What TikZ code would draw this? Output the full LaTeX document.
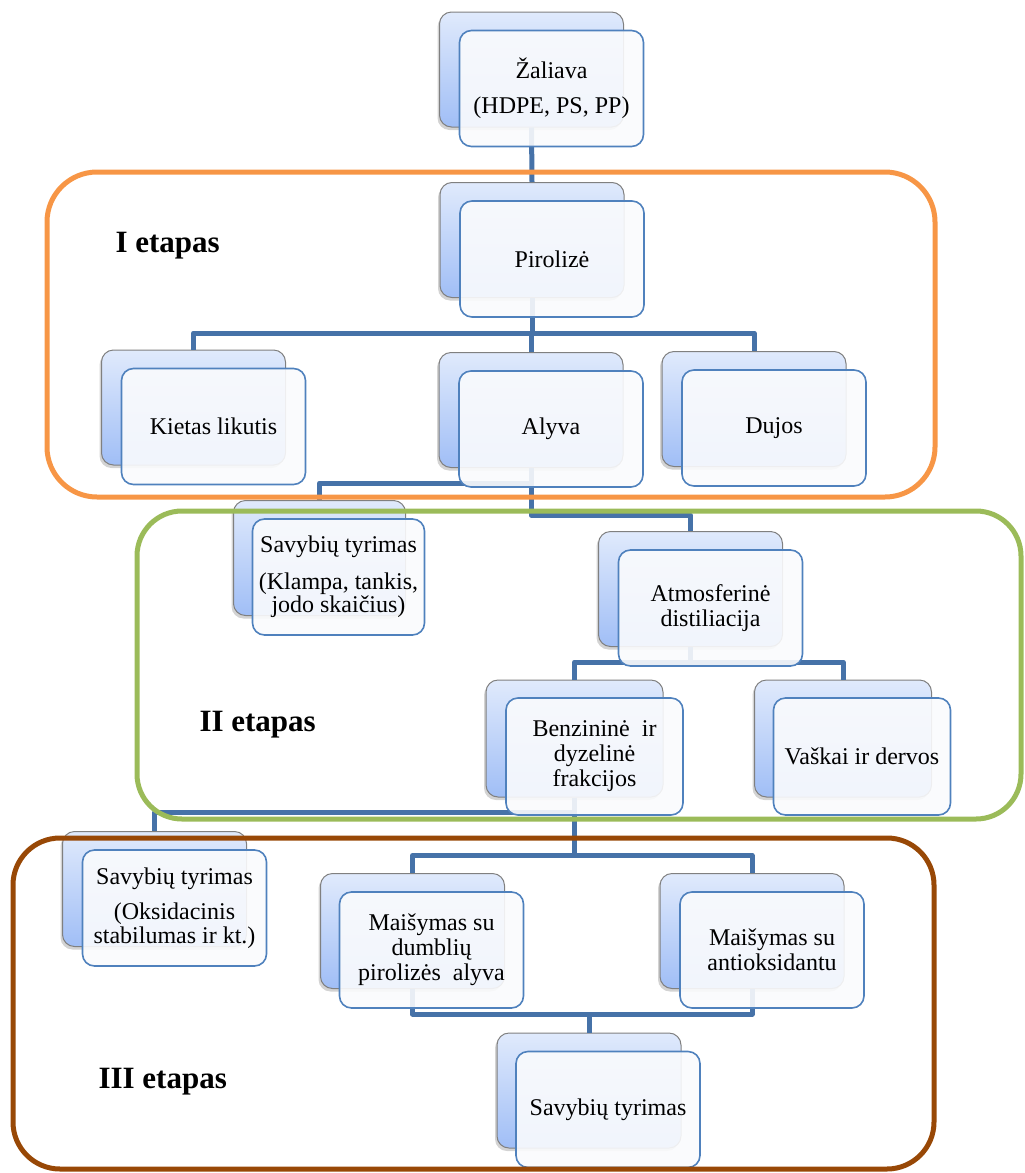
\documentclass[tikz,border=0pt]{standalone}
\usepackage{fontspec}
\setmainfont{Liberation Serif}
\usetikzlibrary{shadows}
\definecolor{linija}{RGB}{70,114,168}
\definecolor{remas}{RGB}{79,129,189}
\definecolor{virsus}{RGB}{224,234,252}
\definecolor{apacia}{RGB}{160,190,246}
\definecolor{oranzine}{RGB}{247,150,70}
\definecolor{zalia}{RGB}{155,187,89}
\definecolor{ruda}{RGB}{152,72,6}
\begin{document}
\begin{tikzpicture}[x=1pt,y=-1pt,line join=round,font=\fontsize{24}{25}\selectfont,
	back/.style={rectangle,rounded corners=12pt,draw=gray,line width=1pt,top color=virsus,bottom color=apacia,
		minimum width=184pt,minimum height=115pt,inner sep=0pt,
		drop shadow={shadow xshift=-2pt,shadow yshift=-3pt,opacity=.35}},
	front/.style={rectangle,rounded corners=12pt,draw=remas,line width=1.6pt,fill=white!97!remas,
		fill opacity=.9,text opacity=1,minimum width=184pt,minimum height=116pt,align=center,inner sep=2pt},
	jung/.style={draw=linija,line width=5pt},
	etapas/.style={font=\fontsize{31}{31}\selectfont\bfseries,anchor=base west},
	etapremas/.style={line width=5pt}]
			\useasboundingbox (0,0) rectangle (1025,1173);
			\node[back] (zal) at (531.5,69.5) {};
			\node[back] (pir) at (532,240) {};
			\node[back] (kie) at (193.5,407.5) {};
			\node[back] (alv) at (531,410) {};
			\node[back] (duj) at (754,409) {};
			\node[back,minimum width=172pt] (sav1) at (319.5,558) {};
			\node[back] (atm) at (690.5,589) {};
			\node[back,minimum width=177pt,minimum height=117pt] (ben) at (574.5,738.5) {};
			\node[back,minimum width=177pt,minimum height=117pt] (vas) at (843,738.5) {};
			\node[back] (sav2) at (154.5,889) {};
			\node[back] (mai1) at (412.5,931) {};
			\node[back] (mai2) at (752,931) {};
			\node[back] (sav3) at (589,1090.5) {};
			\draw[jung] (zal.south) -- (pir.north);
			\draw[jung] (pir.south) -- ++(0,35) -| (kie.north);
			\draw[jung] (pir.south) -- ++(0,35) -| (alv.north);
			\draw[jung] (pir.south) -- ++(0,35) -| (duj.north);
			\draw[jung] (alv.south) -- ++(0,15) -| (sav1.north);
			\draw[jung] (alv.south) -- ++(0,47) -| (atm.north);
			\draw[jung] (atm.south) -- ++(0,15) -| (ben.north);
			\draw[jung] (atm.south) -- ++(0,15) -| (vas.north);
			\draw[jung] (ben.south) -- ++(0,15) -| (sav2.north);
			\draw[jung] (ben.south) -- ++(0,58) -| (mai1.north);
			\draw[jung] (ben.south) -- ++(0,58) -| (mai2.north);
			\draw[jung] (mai1.south) -- ++(0,25) -| (sav3.north);
			\draw[jung] (mai2.south) -- ++(0,25) -| (sav3.north);
			\node[front] (zalF) at ([shift={(20,19)}]zal) {Žaliava\\[10pt](HDPE, PS, PP)};
			\node[front] (pirF) at ([shift={(20,19)}]pir) {Pirolizė};
			\node[front] (kieF) at ([shift={(20,19)}]kie) {Kietas likutis};
			\node[front] (alvF) at ([shift={(20,19)}]alv) {Alyva};
			\node[front] (dujF) at ([shift={(20,19)}]duj) {Dujos};
			\node[front,minimum width=172pt] (sav1F) at ([shift={(19,19)}]sav1) {Savybių tyrimas\\[12pt](Klampa, tankis,\\[-2pt]jodo skaičius)};
			\node[front] (atmF) at ([shift={(20,19)}]atm) {Atmosferinė\\distiliacija};
			\node[front,minimum width=177pt,minimum height=117pt] (benF) at ([shift={(20,18)}]ben) {Benzininė\ \ ir\\dyzelinė\\frakcijos};
			\node[front,minimum width=177pt,minimum height=117pt] (vasF) at ([shift={(19,18)}]vas) {Vaškai ir dervos};
			\node[front] (sav2F) at ([shift={(20,19)}]sav2) {Savybių tyrimas\\[10pt](Oksidacinis\\[-1pt]stabilumas ir kt.)};
			\node[front] (mai1F) at ([shift={(19,19)}]mai1) {Maišymas su\\dumblių\\pirolizės\ \ alyva};
			\node[front] (mai2F) at ([shift={(20,19)}]mai2) {Maišymas su\\antioksidantu};
			\node[front] (sav3F) at ([shift={(19,19)}]sav3) {Savybių tyrimas};
			\draw[etapremas,oranzine,rounded corners=50pt] (47,172) rectangle (935,497);
			\draw[etapremas,zalia,rounded corners=45pt] (137,511) rectangle (1021,819);
			\draw[etapremas,ruda,rounded corners=47pt] (13,838) rectangle (934,1169);
			\node[etapas] (et1) at (112,252) {I etapas};
			\node[etapas] (et2) at (196,731) {II etapas};
			\node[etapas] (et3) at (95,1088) {III etapas};
\end{tikzpicture}
\end{document}
